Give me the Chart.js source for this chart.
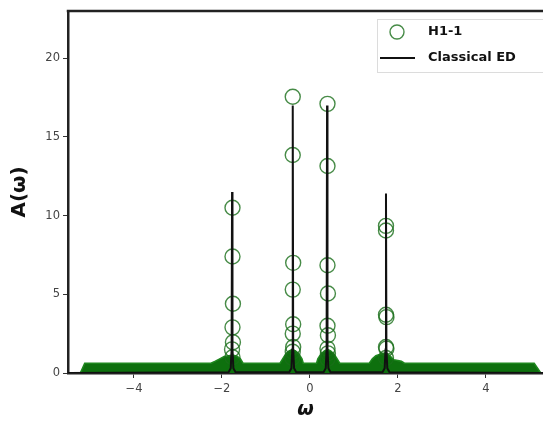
<!DOCTYPE html>
<html>
<head>
<meta charset="utf-8">
<script src="https://cdn.jsdelivr.net/npm/chart.js@4.4.1/dist/chart.umd.min.js"></script>
<style>
  html, body { margin: 0; padding: 0; background: #fff; }
  #wrap { width: 543px; height: 421px; }
</style>
</head>
<body>
<div id="wrap"><canvas id="chart" width="543" height="421"></canvas></div>
<script>
// Tick labels
const xTicks = [-4, -2, 0, 2, 4];
const yTicks = [0, 5, 10, 15, 20];

// Classical ED spectrum (black line)
const edX = [-5.5, -1.85, -1.80, -1.78, -1.77, -1.76, -1.74, -1.69,
  -0.47, -0.42, -0.40, -0.39, -0.38, -0.36, -0.31,
  0.31, 0.36, 0.38, 0.39, 0.40, 0.42, 0.47,
  1.65, 1.70, 1.72, 1.73, 1.74, 1.76, 1.81, 5.5];
const edY = [0, 0.05, 0.3, 1.5, 11.5, 1.5, 0.3, 0.05,
  0.05, 0.3, 1.5, 17.0, 1.5, 0.3, 0.05,
  0.05, 0.3, 1.5, 17.0, 1.5, 0.3, 0.05,
  0.05, 0.3, 1.5, 11.4, 1.5, 0.3, 0.05, 0];

// H1-1 points near the peaks (open circles)
const h1X = [-1.76, -1.76, -1.75, -1.76, -1.75, -1.77, -1.76,
  -0.39, -0.39, -0.38, -0.39, -0.38, -0.39, -0.38, -0.39, -0.40,
  0.40, 0.40, 0.40, 0.41, 0.40, 0.41, 0.40, 0.41, 0.40,
  1.73, 1.73, 1.73, 1.74, 1.73, 1.74, 1.73];
const h1Y = [10.5, 7.4, 4.4, 2.9, 1.95, 1.5, 1.0,
  17.55, 13.85, 7.0, 5.3, 3.1, 2.5, 1.65, 1.35, 0.95,
  17.1, 13.15, 6.85, 5.05, 3.0, 2.4, 1.55, 1.25, 0.9,
  9.35, 9.05, 3.7, 3.55, 1.65, 1.55, 0.95];

// H1-1 dense band along the baseline (top edge of the overlapping markers)
const bandX = [-5.22, -5.12, -2.25, -2.15, -2.05, -1.95, -1.85, -1.75, -1.65, -1.58, -1.52,
  -0.68, -0.62, -0.55, -0.47, -0.40, -0.33, -0.25, -0.18, -0.15,
  0.15, 0.18, 0.25, 0.33, 0.40, 0.47, 0.55, 0.62, 0.68,
  1.35, 1.42, 1.50, 1.60, 1.73, 1.82, 1.90, 2.00, 2.08, 2.15,
  5.10, 5.25];
const bandY = [0, 0.62, 0.62, 0.75, 0.9, 1.05, 1.1, 1.15, 1.05, 0.9, 0.62,
  0.62, 0.9, 1.2, 1.4, 1.5, 1.4, 1.2, 0.9, 0.62,
  0.62, 0.9, 1.2, 1.4, 1.5, 1.4, 1.2, 0.9, 0.62,
  0.62, 0.9, 1.1, 1.2, 1.3, 1.1, 0.85, 0.8, 0.75, 0.62,
  0.62, 0];

const ringColor = "rgba(25,110,25,0.8)";
const bandColor = "rgb(14,112,14)";
const frameColor = "#222";

const toPoints = (xs, ys) => xs.map((x, i) => ({ x: x, y: ys[i] }));

// Legend drawn inside the plot, top right
const innerLegend = {
  id: "innerLegend",
  afterDraw(chart) {
    const ctx = chart.ctx;
    const ds = chart.data.datasets;
    ctx.save();
    ctx.fillStyle = "rgba(255,255,255,0.85)";
    ctx.strokeStyle = "#dcdcdc";
    ctx.lineWidth = 1;
    ctx.fillRect(377.5, 19.5, 180, 53);
    ctx.strokeRect(377.5, 19.5, 180, 53);

    ctx.font = "bold 13px 'DejaVu Sans'";
    ctx.textBaseline = "middle";
    ctx.fillStyle = "#111";

    ctx.beginPath();
    ctx.arc(397, 32, 7, 0, Math.PI * 2);
    ctx.strokeStyle = ds[1].borderColor;
    ctx.lineWidth = ds[1].borderWidth;
    ctx.stroke();
    ctx.fillText(ds[1].label, 428, 32);

    ctx.beginPath();
    ctx.moveTo(380, 58);
    ctx.lineTo(415, 58);
    ctx.strokeStyle = ds[0].borderColor;
    ctx.lineWidth = ds[0].borderWidth;
    ctx.stroke();
    ctx.fillText(ds[0].label, 428, 58);
    ctx.restore();
  }
};

// Top frame line
const topFrame = {
  id: "topFrame",
  afterDraw(chart) {
    const a = chart.chartArea;
    const ctx = chart.ctx;
    ctx.save();
    ctx.strokeStyle = frameColor;
    ctx.lineWidth = 2.5;
    ctx.beginPath();
    ctx.moveTo(a.left - 1.25, a.top);
    ctx.lineTo(chart.width, a.top);
    ctx.stroke();
    ctx.restore();
  }
};

const fmt = v => (v < 0 ? "\u2212" + Math.abs(v) : String(v));

new Chart(document.getElementById("chart"), {
  type: "scatter",
  data: {
    datasets: [
      {
        label: "Classical ED",
        type: "line",
        data: toPoints(edX, edY),
        borderColor: "#111",
        borderWidth: 2,
        pointRadius: 0,
        tension: 0,
        clip: 0,
        order: 0
      },
      {
        label: "H1-1",
        data: toPoints(h1X, h1Y),
        borderColor: ringColor,
        backgroundColor: "rgba(0,0,0,0)",
        borderWidth: 1.4,
        pointRadius: 7.5,
        clip: 0,
        order: 1
      },
      {
        label: "H1-1 band",
        type: "line",
        data: toPoints(bandX, bandY),
        borderColor: "rgb(30,135,30)",
        backgroundColor: bandColor,
        borderWidth: 1.5,
        pointRadius: 0,
        tension: 0,
        fill: "origin",
        clip: 0,
        order: 2
      }
    ]
  },
  options: {
    responsive: false,
    animation: false,
    layout: { autoPadding: false, padding: { top: 11, right: 0, left: 0, bottom: 0 } },
    plugins: {
      legend: { display: false },
      tooltip: { enabled: false }
    },
    scales: {
      x: {
        type: "linear",
        min: -5.5,
        max: 5.3,
        afterBuildTicks: s => { s.ticks = xTicks.map(v => ({ value: v })); },
        afterFit: s => { s.height = 48; s.paddingLeft = 0; s.paddingRight = 0; },
        ticks: {
          callback: fmt,
          color: "#444",
          font: { family: "DejaVu Sans", size: 11.5 },
          padding: 4,
          maxRotation: 0
        },
        grid: { drawOnChartArea: false, drawTicks: true, tickLength: 5, color: "#333" },
        border: { display: true, color: frameColor, width: 2.5 },
        title: {
          display: true,
          text: "\u03c9",
          color: "#111",
          font: { family: "DejaVu Sans", size: 19, weight: "bold", style: "italic" },
          padding: { top: 0, bottom: 0 }
        }
      },
      y: {
        type: "linear",
        min: 0,
        max: 23,
        afterBuildTicks: s => { s.ticks = yTicks.map(v => ({ value: v })); },
        afterFit: s => { s.width = 68; },
        ticks: {
          callback: fmt,
          color: "#444",
          font: { family: "DejaVu Sans", size: 11.5 },
          padding: 3
        },
        grid: { drawOnChartArea: false, drawTicks: true, tickLength: 5, color: "#333" },
        border: { display: true, color: frameColor, width: 2.5 },
        title: {
          display: true,
          text: "A(\u03c9)",
          color: "#111",
          font: { family: "DejaVu Sans", size: 20, weight: "bold" },
          padding: { top: 8, bottom: 0 }
        }
      }
    }
  },
  plugins: [innerLegend, topFrame]
});
</script>
</body>
</html>
